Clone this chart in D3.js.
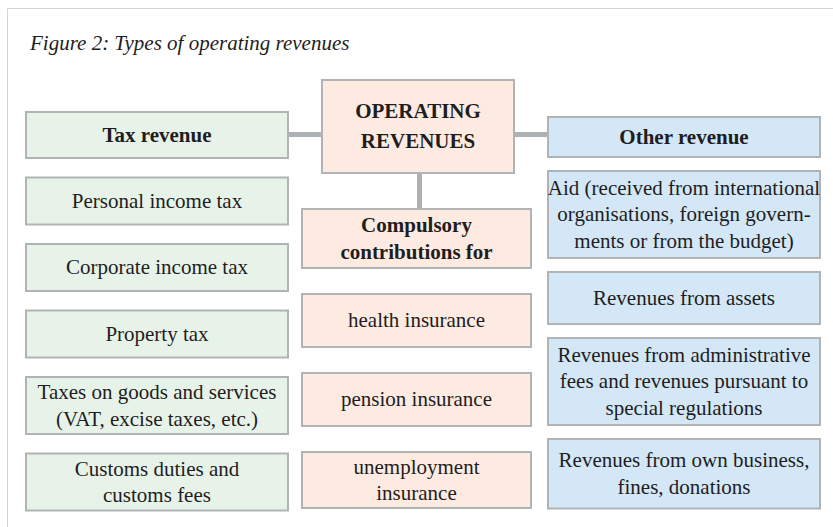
<!DOCTYPE html>
<html lang="en">
<head>
    <meta charset="UTF-8">
    <title>Figure 2: Types of operating revenues</title>
    <script src="https://d3js.org/d3.v7.min.js"></script>
    <style>
        body { margin: 0; background: #fff; }
        svg, text, tspan {
            font-family: "Liberation Serif", "DejaVu Serif", serif;
        }
        text { fill: #1f1d1e; }
    </style>
</head>
<body>
    <script>
        const width = 833;
        const height = 527;

        // labels ("\n" = line break as printed)
        const title = "Figure 2: Types of operating revenues";
        const rootLabel = "OPERATING\nREVENUES";
        const headers = ["Tax revenue", "Compulsory\ncontributions for", "Other revenue"];
        const taxRevenue = [
            "Personal income tax",
            "Corporate income tax",
            "Property tax",
            "Taxes on goods and services\n(VAT, excise taxes, etc.)",
            "Customs duties and\ncustoms fees"
        ];
        const contributions = [
            "health insurance",
            "pension insurance",
            "unemployment\ninsurance"
        ];
        const otherRevenue = [
            "Aid (received from international\norganisations, foreign govern-\nments or from the budget)",
            "Revenues from assets",
            "Revenues from administrative\nfees and revenues pursuant to\nspecial regulations",
            "Revenues from own business,\nfines, donations"
        ];

        // layout of the three columns
        const columns = [
            {header: headers[0], items: taxRevenue, x: 26, w: 262, top: 112, headH: 46,
             gap: 19.5, base: 47, perLine: 10, fill: "#e7f3e9"},
            {header: headers[1], items: contributions, x: 302, w: 229, top: 209, headH: 59,
             gap: 26, base: 53, perLine: 3, fill: "#fdebe1"},
            {header: headers[2], items: otherRevenue, x: 548, w: 272, top: 117, headH: 40,
             gap: 14, base: 52, perLine: 17.5, fill: "#d3e7f6"}
        ];
        const root = {label: rootLabel, x: 322, w: 192, top: 80, h: 93, fill: "#fdebe1"};

        const serif = "'Liberation Serif', 'DejaVu Serif', serif";
        const fontSize = 21;
        const lineH = 26.5;
        const stroke = "#b1b4b6";

        const svg = d3.select("body").append("svg")
            .attr("width", width)
            .attr("height", height)
            .style("font-family", serif);

        // page frame
        svg.append("path")
            .attr("d", `M7.5,${height} V8.5 H${width}`)
            .attr("fill", "none")
            .attr("stroke", "#d4d4d4");

        svg.append("text")
            .attr("x", 30)
            .attr("y", 50)
            .attr("font-size", 21)
            .attr("font-style", "italic")
            .style("font-family", serif)
            .text(title);

        // build boxes
        const boxes = [];
        columns.forEach(col => {
            let y = col.top;
            boxes.push({label: col.header, bold: true, x: col.x, w: col.w, y: y, h: col.headH, fill: col.fill});
            y += col.headH + col.gap;
            col.items.forEach(label => {
                const n = label.split("\n").length;
                const h = col.base + (n - 1) * col.perLine;
                boxes.push({label, bold: false, x: col.x, w: col.w, y, h, fill: col.fill});
                y += h + col.gap;
            });
        });
        boxes.push({label: root.label, bold: true, x: root.x, w: root.w, y: root.top, h: root.h, fill: root.fill, lh: 30});

        // connectors
        const headL = boxes[0];
        const headM = boxes[1 + taxRevenue.length];
        const headR = boxes[2 + taxRevenue.length + contributions.length];
        const rootBox = boxes[boxes.length - 1];
        const linkY = rootBox.y + 54.5;
        const midX = rootBox.x + rootBox.w / 2 + 1.5;
        const connectors = [
            [[headL.x + headL.w, linkY], [rootBox.x, linkY]],
            [[rootBox.x + rootBox.w, linkY], [headR.x, linkY]],
            [[midX, rootBox.y + rootBox.h], [midX, headM.y]]
        ];
        svg.append("g")
            .selectAll("path")
            .data(connectors)
            .join("path")
            .attr("d", d3.line())
            .attr("stroke", "#adb1b4")
            .attr("stroke-width", 5);

        const g = svg.append("g")
            .selectAll("g")
            .data(boxes)
            .join("g");

        g.append("rect")
            .attr("x", d => d.x)
            .attr("y", d => d.y)
            .attr("width", d => d.w)
            .attr("height", d => d.h)
            .attr("fill", d => d.fill)
            .attr("stroke", stroke)
            .attr("stroke-width", 2);

        g.append("text")
            .attr("text-anchor", "middle")
            .attr("font-size", fontSize)
            .attr("font-weight", d => d.bold ? "bold" : "normal")
            .style("font-family", serif)
            .each(function (d) {
                const lines = d.label.split("\n");
                const lh = d.lh || lineH;
                const cy = d.y + d.h / 2;
                d3.select(this).selectAll("tspan")
                    .data(lines)
                    .join("tspan")
                    .attr("x", d.x + d.w / 2)
                    .attr("y", (t, i) => cy + (i - (lines.length - 1) / 2) * lh + fontSize * 0.33)
                    .text(t => t);
            });
    </script>
</body>
</html>
